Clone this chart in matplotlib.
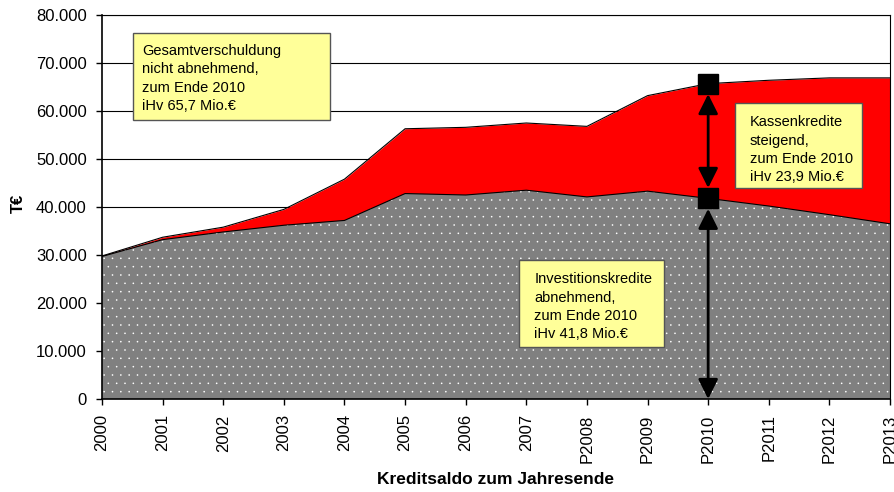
import numpy as np
import matplotlib.pyplot as plt
from matplotlib.patches import Rectangle
from matplotlib.ticker import FuncFormatter

plt.rcParams['font.family'] = ['Liberation Sans', 'DejaVu Sans']
plt.rcParams['hatch.linewidth'] = 0.0

jahre = ["2000", "2001", "2002", "2003", "2004", "2005", "2006", "2007",
         "P2008", "P2009", "P2010", "P2011", "P2012", "P2013"]
investition = [29.7, 33.2, 34.8, 36.2, 37.2, 42.8, 42.5, 43.5, 42.1, 43.3, 41.8, 40.2, 38.4, 36.5]
gesamt = [29.8, 33.7, 35.8, 39.5, 45.8, 56.3, 56.6, 57.5, 56.8, 63.2, 65.7, 66.4, 66.9, 66.9]
investition = [v * 1000 for v in investition]
gesamt = [v * 1000 for v in gesamt]

x = np.arange(len(jahre))

fig = plt.figure(figsize=(8.95, 4.92), dpi=100)
ax = fig.add_axes([102 / 895, 1 - 399 / 492, 788 / 895, 384 / 492])

ax.set_axisbelow(True)
ax.yaxis.grid(True, color='black', linewidth=0.8)
ax.fill_between(x, investition, gesamt, color='#FF0000', linewidth=0, zorder=2)
ax.plot(x, gesamt, color='black', linewidth=0.8, zorder=3)
ax.fill_between(x, 0, investition, facecolor='#808080', edgecolor='white',
                hatch='..', linewidth=0, zorder=2)
ax.plot(x, investition, color='black', linewidth=0.8, zorder=3)

# Pfeile bei P2010
i = jahre.index("P2010")
arrow = dict(arrowstyle='<|-|>,head_length=0.6,head_width=0.3', color='black', lw=2,
             mutation_scale=20, shrinkA=7.5, shrinkB=7.5)
ax.annotate('', xy=(i, gesamt[i]), xytext=(i, investition[i]), arrowprops=arrow, zorder=5)
ax.annotate('', xy=(i, investition[i]), xytext=(i, 0),
            arrowprops=dict(arrow, shrinkA=0), zorder=5)
ax.plot([i, i], [gesamt[i], investition[i]], 's', color='black', markersize=15,
        zorder=6, clip_on=False)

ax.set_xlim(0, len(jahre) - 1)
ax.set_ylim(0, 80000)
ax.set_yticks(np.arange(0, 80001, 10000))
ax.yaxis.set_major_formatter(FuncFormatter(lambda v, p: f"{int(v):,}".replace(",", ".")))
ax.set_xticks(x)
ax.set_xticklabels(jahre, rotation=90)
ax.tick_params(axis='both', labelsize=12, length=4.5, width=1, direction='out', pad=6.5)
for s in ['top', 'right']:
    ax.spines[s].set_linewidth(0.8)
for s in ['left', 'bottom']:
    ax.spines[s].set_linewidth(1.2)

fig.text(18 / 895, 1 - 203 / 492, "T€", fontsize=12, fontweight='bold',
         rotation=90, ha='center', va='center')
fig.text(496 / 895, 1 - 480 / 492, "Kreditsaldo zum Jahresende", fontsize=12.5,
         fontweight='bold', ha='center', va='center')

# Textfelder (Rahmen in Datenkoordinaten)
boxes = [
    ((0.51, 58100), 3.25, 18100, 0.66, 66800,
     "Gesamtverschuldung\nnicht abnehmend,\nzum Ende 2010\niHv 65,7 Mio.€"),
    ((10.45, 44000), 2.09, 17700, 10.69, 51900,
     "Kassenkredite\nsteigend,\nzum Ende 2010\niHv 23,9 Mio.€"),
    ((6.88, 10800), 2.39, 18200, 7.13, 19200,
     "Investitionskredite\nabnehmend,\nzum Ende 2010\niHv 41,8 Mio.€"),
]
for (x0, y0), w, h, tx, ty, txt in boxes:
    ax.add_patch(Rectangle((x0, y0), w, h, facecolor='#FFFF99', edgecolor='#555555',
                           linewidth=1, zorder=7))
    ax.text(tx, ty, txt, fontsize=10.5, va='center', ha='left', linespacing=1.4, zorder=8)

fig.savefig("out.png", dpi=100)
